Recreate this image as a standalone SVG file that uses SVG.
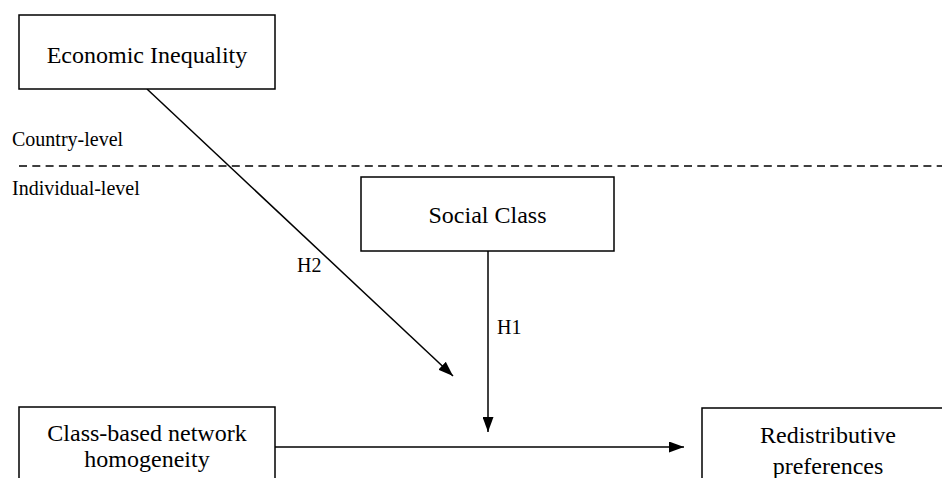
<svg xmlns="http://www.w3.org/2000/svg" width="942" height="478" viewBox="0 0 942 478">
<style>
.box{fill:#fff;stroke:#000;stroke-width:1.5}
.t{font-family:"Liberation Serif","Times New Roman",serif;font-size:24px;fill:#000;text-anchor:middle}
.l{font-family:"Liberation Serif","Times New Roman",serif;font-size:20px;fill:#000}
.c{stroke:#000;stroke-width:1.5;fill:none}
</style>
<defs>
<marker id="ah" viewBox="0 0 15 11" refX="15" refY="5.5" markerWidth="15" markerHeight="11" markerUnits="userSpaceOnUse" orient="auto"><path d="M0,0 L15,5.5 L0,11 Z" fill="#000"/></marker>
</defs>
<g id="levels">
<text class="l" x="12" y="146">Country-level</text>
<line x1="19" y1="166" x2="942" y2="166" stroke="#000" stroke-width="1.5" stroke-dasharray="8,5.3"/>
<text class="l" x="12" y="195">Individual-level</text>
</g>
<g id="connectors">
<line class="c" x1="147" y1="89" x2="453" y2="376" marker-end="url(#ah)"/>
<line class="c" x1="488" y1="251" x2="488" y2="432" marker-end="url(#ah)"/>
<line class="c" x1="275" y1="447" x2="684" y2="447" marker-end="url(#ah)"/>
<text class="l" x="297" y="272">H2</text>
<text class="l" x="497" y="334">H1</text>
</g>
<g id="economic-inequality">
<rect class="box" x="19" y="15" width="256" height="74"/>
<text class="t" x="147" y="63">Economic Inequality</text>
</g>
<g id="social-class">
<rect class="box" x="361" y="177" width="253" height="74"/>
<text class="t" x="487.5" y="223">Social Class</text>
</g>
<g id="network-homogeneity">
<rect class="box" x="19" y="407" width="256" height="80"/>
<text class="t" x="147" y="441">Class-based network</text>
<text class="t" x="147" y="467">homogeneity</text>
</g>
<g id="redistributive-preferences">
<rect class="box" x="702" y="408" width="252" height="80"/>
<text class="t" x="828" y="443">Redistributive</text>
<text class="t" x="828" y="474">preferences</text>
</g>
</svg>
